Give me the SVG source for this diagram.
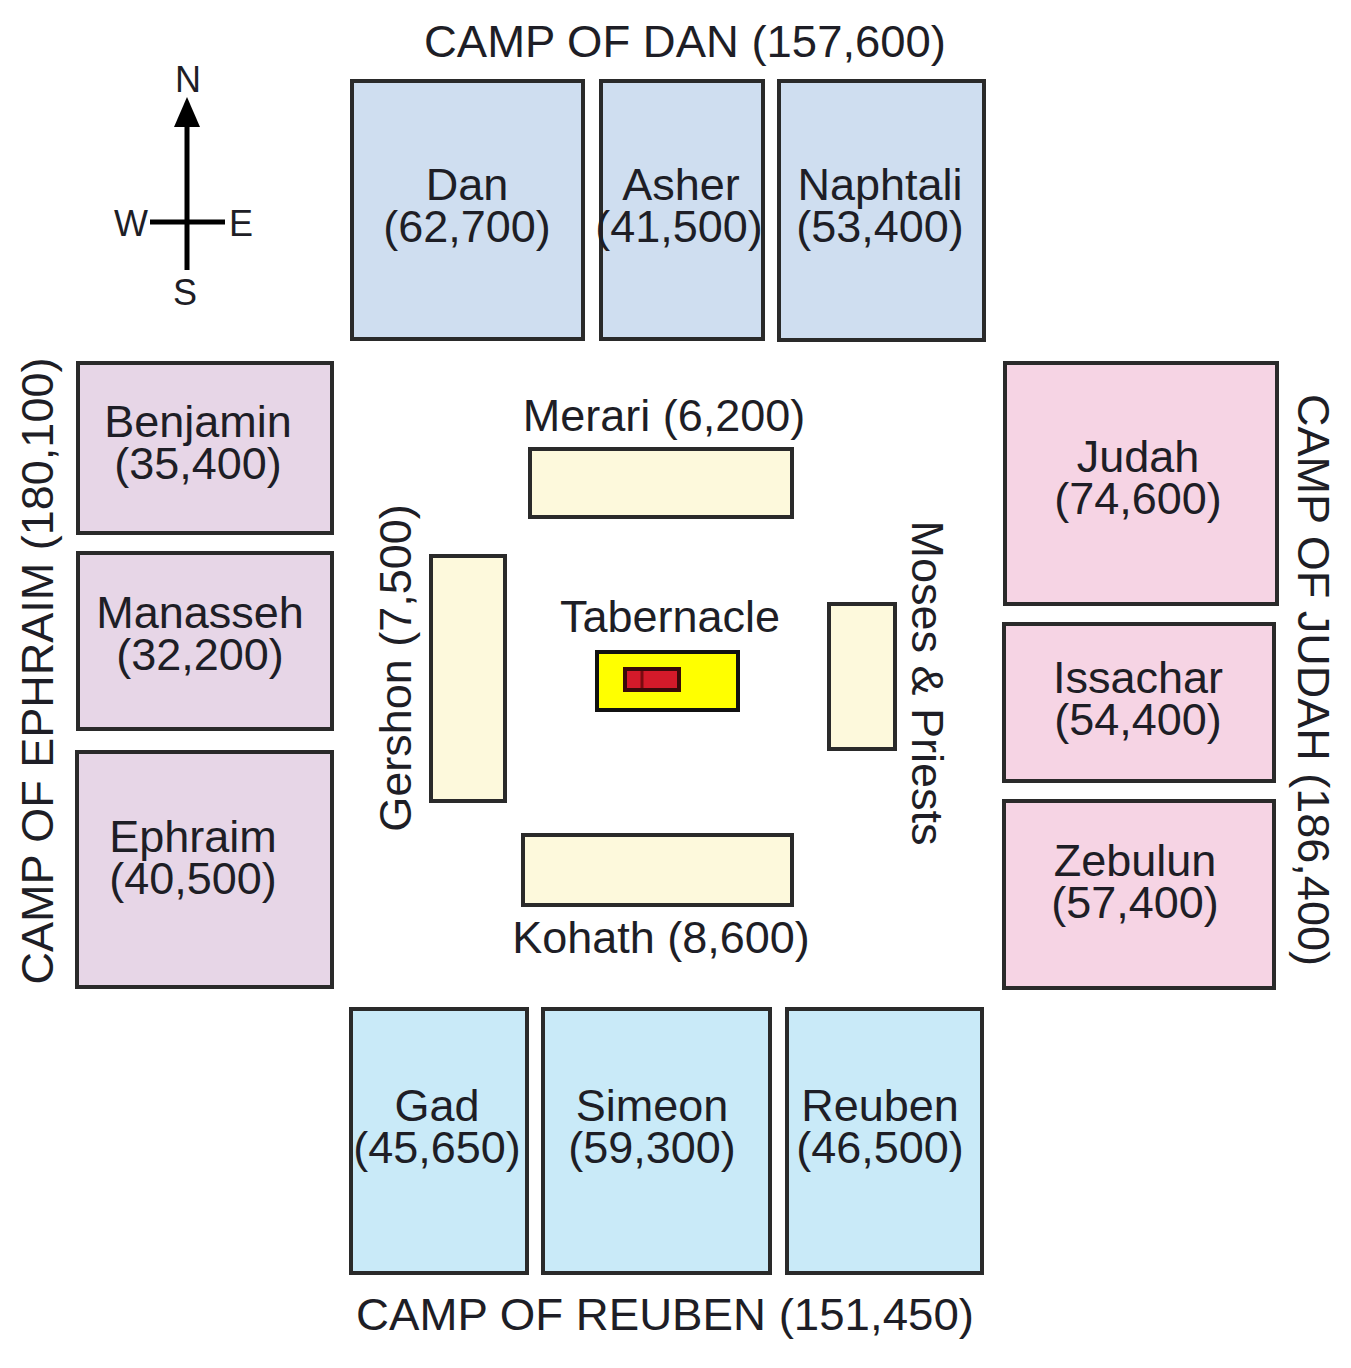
<svg xmlns="http://www.w3.org/2000/svg" width="1351" height="1368" viewBox="0 0 1351 1368">
<style>
text{font-family:"Liberation Sans",Arial,sans-serif;font-size:45px;fill:#1e1e26;text-anchor:middle}
.box{stroke:#2a2a2a;stroke-width:4}
.dan{fill:#cfdef0}
.eph{fill:#e7d6e7}
.jud{fill:#f6d4e4}
.reu{fill:#c9eaf8}
.lev{fill:#fdf9dc}
.cmp{font-size:36px}
</style>
<rect width="1351" height="1368" fill="#ffffff"/>

<g id="compass">
<line x1="187" y1="122" x2="187" y2="270" stroke="#000" stroke-width="5"/>
<line x1="150" y1="222" x2="225" y2="222" stroke="#000" stroke-width="5"/>
<polygon points="187,97 174,127 200,127" fill="#000"/>
<text class="cmp" x="188" y="92">N</text>
<text class="cmp" x="131" y="236">W</text>
<text class="cmp" x="241" y="236">E</text>
<text class="cmp" x="185" y="305">S</text>
</g>

<g id="camp-labels">
<text x="685" y="57" textLength="522" lengthAdjust="spacingAndGlyphs">CAMP OF DAN (157,600)</text>
<text x="665" y="1330" textLength="618" lengthAdjust="spacingAndGlyphs">CAMP OF REUBEN (151,450)</text>
<text transform="translate(53,671) rotate(-90)">CAMP OF EPHRAIM (180,100)</text>
<text transform="translate(1298,680) rotate(90)">CAMP OF JUDAH (186,400)</text>
</g>

<g id="dan"><rect class="box dan" x="352" y="81" width="231" height="258"/><text x="467" y="200">Dan</text><text x="467" y="242">(62,700)</text></g>
<g id="asher"><rect class="box dan" x="601" y="81" width="162" height="258"/><text x="681" y="200">Asher</text><text x="679" y="242">(41,500)</text></g>
<g id="naphtali"><rect class="box dan" x="779" y="81" width="205" height="259"/><text x="880" y="200">Naphtali</text><text x="880" y="242">(53,400)</text></g>

<g id="benjamin"><rect class="box eph" x="78" y="363" width="254" height="170"/><text x="198" y="437">Benjamin</text><text x="198" y="479">(35,400)</text></g>
<g id="manasseh"><rect class="box eph" x="78" y="553" width="254" height="176"/><text x="200" y="628">Manasseh</text><text x="200" y="670">(32,200)</text></g>
<g id="ephraim"><rect class="box eph" x="77" y="752" width="255" height="235"/><text x="193" y="852">Ephraim</text><text x="193" y="894">(40,500)</text></g>

<g id="judah"><rect class="box jud" x="1005" y="363" width="272" height="241"/><text x="1138" y="472">Judah</text><text x="1138" y="514">(74,600)</text></g>
<g id="issachar"><rect class="box jud" x="1004" y="624" width="270" height="157"/><text x="1138" y="693">Issachar</text><text x="1138" y="735">(54,400)</text></g>
<g id="zebulun"><rect class="box jud" x="1004" y="801" width="270" height="187"/><text x="1135" y="876">Zebulun</text><text x="1135" y="918">(57,400)</text></g>

<g id="gad"><rect class="box reu" x="351" y="1009" width="176" height="264"/><text x="437" y="1121">Gad</text><text x="437" y="1163">(45,650)</text></g>
<g id="simeon"><rect class="box reu" x="543" y="1009" width="227" height="264"/><text x="652" y="1121">Simeon</text><text x="652" y="1163">(59,300)</text></g>
<g id="reuben"><rect class="box reu" x="787" y="1009" width="195" height="264"/><text x="880" y="1121">Reuben</text><text x="880" y="1163">(46,500)</text></g>

<g id="merari"><rect class="box lev" x="530" y="449" width="262" height="68"/><text x="664" y="431">Merari (6,200)</text></g>
<g id="gershon"><rect class="box lev" x="431" y="556" width="74" height="245"/><text transform="translate(411,668) rotate(-90)">Gershon (7,500)</text></g>
<g id="kohath"><rect class="box lev" x="523" y="835" width="269" height="70"/><text x="661" y="953">Kohath (8,600)</text></g>
<g id="moses"><rect class="box lev" x="829" y="604" width="66" height="145"/><text transform="translate(912,683) rotate(90)">Moses &amp; Priests</text></g>

<g id="tabernacle">
<text x="670" y="632">Tabernacle</text>
<rect x="597" y="652" width="141" height="58" fill="#ffff00" stroke="#111" stroke-width="4"/>
<rect x="625" y="669" width="54" height="21" fill="#d41a2a" stroke="#3a0a0a" stroke-width="4"/>
<line x1="642" y1="671" x2="642" y2="688" stroke="#7a0a10" stroke-width="3"/>
</g>

<g id="connectors"></g>
</svg>
